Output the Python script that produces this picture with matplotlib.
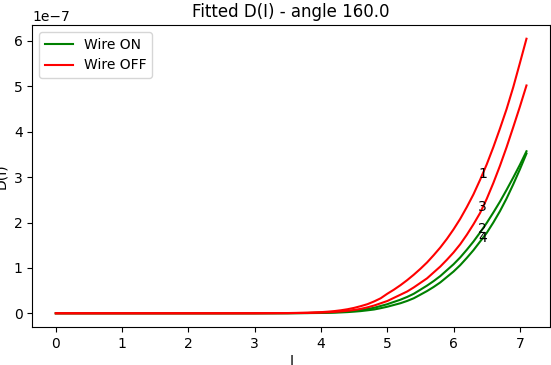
import numpy as np
import matplotlib
matplotlib.use('Agg')
import matplotlib.pyplot as plt

# current grid (I) shared by all fitted curves
I = [0.0, 0.5, 1.0, 1.5, 2.0, 2.5, 3.0, 3.5, 3.8,
     4.0, 4.1, 4.2, 4.3, 4.4, 4.5, 4.6, 4.7, 4.8, 4.9,
     5.0, 5.1, 5.2, 5.3, 5.4, 5.5, 5.6, 5.7, 5.8, 5.9,
     6.0, 6.1, 6.2, 6.3, 6.4, 6.5, 6.6, 6.7, 6.8, 6.9,
     7.0, 7.1]

# fitted D(I), units of 1e-7
d_off_1 = [0, 0, 0, 0, 0, 0, 0.001, 0.005, 0.013,
           0.025, 0.035, 0.048, 0.066, 0.089, 0.119, 0.157, 0.20, 0.26, 0.33,
           0.43, 0.52, 0.62, 0.73, 0.85, 0.98, 1.12, 1.28, 1.45, 1.64,
           1.85, 2.08, 2.34, 2.62, 2.94, 3.28, 3.66, 4.07, 4.50, 4.98,
           5.51, 6.05]
d_off_3 = [0, 0, 0, 0, 0, 0, 0.0005, 0.003, 0.008,
           0.016, 0.022, 0.030, 0.041, 0.055, 0.073, 0.097, 0.13, 0.17, 0.22,
           0.27, 0.34, 0.41, 0.48, 0.57, 0.67, 0.77, 0.90, 1.03, 1.18,
           1.34, 1.52, 1.73, 1.96, 2.21, 2.52, 2.87, 3.25, 3.66, 4.10,
           4.55, 5.02]
d_on_2 = [0, 0, 0, 0, 0, 0, 0.0003, 0.002, 0.006,
          0.012, 0.017, 0.023, 0.031, 0.042, 0.055, 0.072, 0.095, 0.12, 0.16,
          0.20, 0.25, 0.30, 0.36, 0.43, 0.52, 0.61, 0.71, 0.82, 0.95,
          1.08, 1.23, 1.40, 1.58, 1.78, 1.99, 2.22, 2.46, 2.72, 2.99,
          3.27, 3.57]
d_on_4 = [0, 0, 0, 0, 0, 0, 0.0002, 0.001, 0.004,
          0.007, 0.010, 0.014, 0.019, 0.026, 0.036, 0.048, 0.065, 0.083, 0.112,
          0.144, 0.183, 0.222, 0.272, 0.331, 0.41, 0.49, 0.58, 0.68, 0.80,
          0.92, 1.06, 1.22, 1.39, 1.58, 1.77, 2.00, 2.25, 2.53, 2.84,
          3.17, 3.52]

label_I = 6.44

fig = plt.figure(figsize=(5.51, 3.65), dpi=100)
ax = fig.add_axes([0.0586, 0.1041, 0.9396, 0.8274])

curves = [(d_on_2, 'green', 'Wire ON', '2'),
          (d_on_4, 'green', None, '4'),
          (d_off_1, 'red', 'Wire OFF', '1'),
          (d_off_3, 'red', None, '3')]

for d, c, lab, num in curves:
    y = np.array(d) * 1e-7
    ax.plot(I, y, color=c, label=lab, lw=1.5)
    ax.text(label_I, np.interp(label_I, I, y), num, ha='center', va='center', fontsize=10)

ax.set_title('Fitted D(I) - angle 160.0')
ax.set_xlabel('I', labelpad=2)
ax.set_ylabel('D(I)')
ax.legend(loc='upper left')

fig.savefig('out.png', dpi=100)
